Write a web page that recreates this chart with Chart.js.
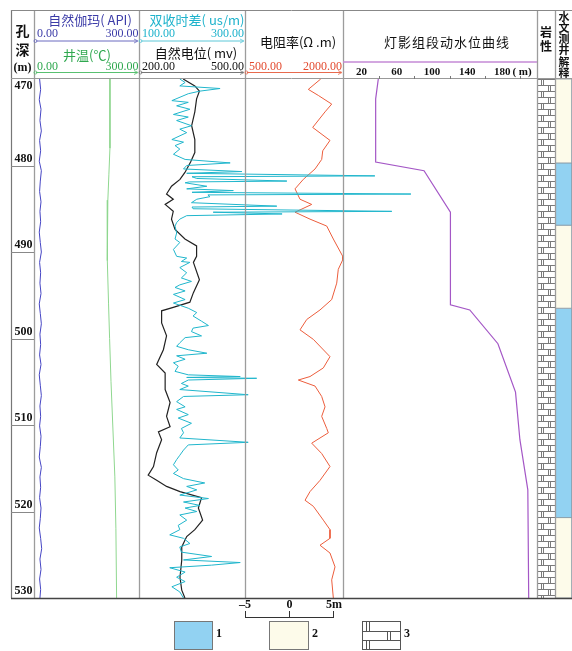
<!DOCTYPE html>
<html>
<head>
<meta charset="utf-8">
<script src="https://cdn.jsdelivr.net/npm/chart.js@4.4.1/dist/chart.umd.min.js"></script>
<style>
    html, body { margin: 0; padding: 0; background: #fff; }
    #wrap { position: relative; width: 572px; height: 651px; }
</style>
</head>
<body>
<div id="wrap"><canvas id="grafico" width="572" height="651"></canvas></div>
<script>
// profundidade (m) e leituras de cada curva: [profundidade, valor]
const profundidades = [470, 480, 490, 500, 510, 520, 530]
const ticksNivel = [20, 60, 100, 140, 180]
const ticksNivelMenor = [40, 80, 120, 160, 200]

const gama = [[470,16],[471.2,19],[472.4,15],[473.5,20],[474.8,17],[476,21],[477.1,16],[478.3,19],[479.5,15],[480.6,21],[481.8,18],[483,16],[484.2,20],[485.3,17],[486.5,19],[487.7,15],[488.9,18],[490,21],[491.2,16],[492.4,19],[493.6,17],[494.8,20],[496,15],[497.1,18],[498.3,21],[499.5,17],[500.7,19],[501.9,16],[503,20],[504.2,15],[505.4,18],[506.6,21],[507.8,17],[509,19],[510.1,16],[511.3,20],[512.5,18],[513.7,15],[514.9,21],[516,17],[517.2,19],[518.4,16],[519.6,20],[520.8,18],[521.9,15],[523.1,19],[524.3,22],[525.5,17],[526.7,20],[527.8,16],[529,19],[530,17]]

const temperatura = [[470,217],[478,217],[481,214],[484,211],[488,209],[491,210],[496,213],[500,216],[505,220],[510,225],[516,231],[522,234],[530,236]]

const difTempo = [[470,177],[470.4,187],[470.8,177],[471.1,253],[471.4,215],[471.7,193],[472.5,162],[472.7,193],[473.1,171],[473.5,196],[474.1,165],[474.4,193],[474.8,171],[475.4,199],[475.8,177],[476.2,190],[477,162],[477.3,184],[477.7,168],[478.1,177],[478.7,165],[479.3,187],[479.7,272],[480,190],[480.4,184],[480.7,294],[480.9,190],[481.2,545],[481.3,200],[481.5,209],[481.8,379],[481.9,195],[482,187],[482.4,228],[482.7,190],[482.9,278],[483.1,200],[483.3,613],[483.4,230],[483.6,234],[483.9,209],[484.3,199],[484.7,360],[484.8,200],[485,202],[485.3,577],[485.4,240],[485.6,370],[485.8,190],[486.2,177],[486.6,171],[487,168],[487.8,171],[488.5,168],[488.9,177],[489.7,165],[490.5,171],
    [490.7,190],[491.1,180],[491.2,196],[491.8,177],[492.4,190],[493,180],[493.4,199],[493.8,177],[494.1,168],[494.5,187],[494.9,165],[495.5,187],[495.9,165],[496.5,193],[497,209],[497.4,202],[498,218],[498.5,231],[498.8,202],[499.2,199],[499.7,218],[499.9,187],[500.5,177],[500.9,171],[501.3,193],[501.7,228],[502,171],[502.4,187],[502.8,165],[503.2,174],[503.8,168],[504.2,193],[504.4,291],[504.5,190],[504.6,322],[504.8,193],[505.2,180],[505.5,193],[505.9,177],[506.5,306],[506.7,184],[507.3,171],[507.9,187],[508.2,171],[508.8,193],[509.2,174],[509.8,199],[510.4,180],
    [510.9,184],[511.5,177],[512,306],[512.3,193],[512.9,184],[513.5,177],[514,171],[514.6,165],[515.2,174],[515.6,165],[516.2,184],[516.7,224],[517.1,190],[517.5,209],[518.1,177],[518.5,231],[518.9,184],[519.3,215],[519.6,187],[520,209],[520.4,177],[521,190],[521.6,174],[522.1,177],[522.7,158],[523.1,184],[523.7,196],[524.1,177],[524.7,180],[525.2,237],[525.6,184],[525.9,291],[526.2,237],[526.5,158],[527,187],[527.6,171],[528.1,187],[528.7,162],[529.3,177],[530,184]]

const potencial = [[470,325],[470.8,358],[471.4,371],[472.3,363],[473.8,358],[475.4,349],[477,358],[478.5,358],[479.6,346],[480.8,330],[481.6,316],[482.4,292],[483.3,278],[483.9,297],[484.5,274],[485.3,297],[486.2,292],[487.4,302],[488.5,330],[489.3,363],[490.5,363],[491.2,354],[493.2,371],[494.7,354],[495.8,344],[496.4,297],[496.8,264],[498.2,264],[499.7,278],[501.3,269],[503,250],[504,274],[505.9,274],[507.4,288],[509,278],[510.2,288],[510.8,255],[511.7,264],[513.2,250],[514.8,241],[515.8,226],[516.4,250],[517.1,278],[517.7,316],[518.4,377],[519.6,368],[521,380],[522.1,358],[522.9,335],[524.1,321],[525.6,321],[527.6,316],[529.1,321],[530,330]]

const resistividade = [[470,1659],[471.2,1469],[471.9,1622],[472.9,1827],[473.8,1725],[475.6,1536],[477.1,1801],[478.3,1690],[479.3,1674],[480.4,1572],[481.6,1393],[482.7,1266],[483.9,1342],[484.5,1521],[485.4,1266],[486.2,1495],[487,1751],[488.5,1852],[490.5,1996],[490.9,1996],[492,1928],[493.6,1904],[495.5,1827],[496.7,1648],[497.8,1445],[499,1342],[500.1,1546],[502.1,1801],[503.4,1699],[504.4,1495],[504.8,1316],[505.5,1572],[506.7,1674],[507.9,1725],[509,1674],[510.4,1751],[510.9,1775],[512.1,1521],[513.3,1674],[514.8,1801],[516.4,1648],[517.7,1495],[518.7,1419],[519.4,1546],[521,1699],[522.1,1801],[523.1,1801],[523.9,1648],[524.8,1801],[526.4,1878],[527.9,1827],[530,1852]]

const nivelAgua = [[470,39],[472.3,36],[479.6,36],[480.6,91],[485.4,121],[496.1,121],[496.7,143],[500.6,175],[506.2,195],[511.7,200],[517.5,209],[530,210]]

// [topo, base, tipo] tipo 1 = aquifero, 2 = nao aquifero
const interpretacao = [[470,479.7,2],[479.7,486.9,1],[486.9,496.5,2],[496.5,520.7,1],[520.7,530,2]]
const litologia = [[470,530,3]]

// ---- layout
const L = 11, R = 572, TOPO = 79, BASE = 598
const cores = { gama: '#4646c4', temp: '#8fd78f', ac: '#20b6cc', sp: '#222', res: '#ec5d3c', nivel: '#a457c6', azul: '#92d2f2', creme: '#fdfbea' }
const SERIF = '"Liberation Serif", "Noto Sans CJK SC", serif'
const CJK = '"Noto Sans CJK SC", "Liberation Serif", sans-serif'

function eixo(px0, px1, v0, v1) {
    const k = (v1 - v0) / (px1 - px0)
    return { type: 'linear', display: false, bounds: 'data', min: v0 - (px0 - L) * k, max: v1 + (R - px1) * k }
}

function padraoCalcario() {
    const c = document.createElement('canvas')
    c.width = 18
    c.height = 12
    const g = c.getContext('2d')
    g.fillStyle = '#fff'
    g.fillRect(0, 0, 18, 12)
    g.strokeStyle = '#7a7a7a'
    g.lineWidth = 1
    g.beginPath()
    g.moveTo(0, 0.5); g.lineTo(18, 0.5)
    g.moveTo(0, 6.5); g.lineTo(18, 6.5)
    g.moveTo(4.5, 0); g.lineTo(4.5, 6.5)
    g.moveTo(6.5, 0); g.lineTo(6.5, 6.5)
    g.moveTo(11.5, 6.5); g.lineTo(11.5, 12)
    g.moveTo(13.5, 6.5); g.lineTo(13.5, 12)
    g.stroke()
    const p = g.createPattern(c, 'repeat')
    p.setTransform(new DOMMatrix().translate(537, TOPO))
    return p
}
const calcario = padraoCalcario()

function serie(pares, eixoX, cor, larg) {
    return {
        data: pares.map(p => ({ x: p[1], y: p[0] })),
        xAxisID: eixoX, yAxisID: 'y',
        borderColor: cor, borderWidth: larg,
        pointRadius: 0, showLine: true, tension: 0, fill: false, order: 1
    }
}

function blocos(intervalos, eixoX) {
    return intervalos.map(b => ({
        data: [{ x: 0, y: b[0] }, { x: 1, y: b[0] }, { x: 1, y: b[1] }, { x: 0, y: b[1] }, { x: 0, y: b[0] }],
        xAxisID: eixoX, yAxisID: 'y',
        borderColor: '#8c9aa6', borderWidth: b[2] == 3 ? 0 : 0.8,
        backgroundColor: b[2] == 1 ? cores.azul : b[2] == 2 ? cores.creme : calcario,
        pointRadius: 0, showLine: true, tension: 0, fill: 'shape', order: 10
    }))
}

const moldura = {
    id: 'moldura',
    afterDatasetsDraw(chart) {
        const ctx = chart.ctx
        const y = chart.scales.y
        const xn = chart.scales.xNivel

        function linha(x1, y1, x2, y2, cor, w) {
            ctx.strokeStyle = cor
            ctx.lineWidth = w
            ctx.beginPath()
            ctx.moveTo(x1, y1)
            ctx.lineTo(x2, y2)
            ctx.stroke()
        }
        function texto(s, x, yy, cor, fonte, al) {
            ctx.fillStyle = cor
            ctx.font = fonte
            ctx.textAlign = al || 'center'
            ctx.textBaseline = 'middle'
            ctx.fillText(s, x, yy)
        }
        function escala(x1, x2, yy, cor) {
            linha(x1 + 2, yy, x2 - 2, yy, cor, 1)
            ctx.strokeStyle = cor
            ctx.lineWidth = 0.8
            ctx.beginPath(); ctx.arc(x1 + 1.5, yy, 1.5, 0, Math.PI * 2); ctx.stroke()
            ctx.beginPath(); ctx.moveTo(x2 - 5, yy - 2); ctx.lineTo(x2 - 1, yy); ctx.lineTo(x2 - 5, yy + 2); ctx.stroke()
        }

        ctx.save()
        // linhas das pistas
        ;[34, 139, 245, 343, 537, 555].forEach(x => linha(x + 0.5, 10, x + 0.5, BASE, '#9c9c9c', 1.3))
        linha(L + 0.5, 10, L + 0.5, BASE, '#777', 1.2)
        linha(L, 10.5, R, 10.5, '#888', 1)
        linha(L, TOPO - 0.5, R, TOPO - 0.5, '#999', 1)
        linha(L, BASE + 0.5, R, BASE + 0.5, '#444', 1.5)

        // profundidade
        profundidades.forEach(d => {
            const py = y.getPixelForValue(d)
            if (d > 470 && d < 530) linha(L, Math.round(py) + 0.5, 34, Math.round(py) + 0.5, '#888', 1)
            const ty = d == 470 ? py + 7 : py - 7
            texto(String(d), 32.5, ty, '#111', 'bold 12px ' + SERIF, 'right')
        })

        // cabecalho
        texto('孔', 22.5, 31, '#111', 'bold 14px ' + CJK)
        texto('深', 22.5, 50, '#111', 'bold 14px ' + CJK)
        texto('(m)', 22.5, 68, '#111', 'bold 12px ' + SERIF)

        const num = '12px ' + SERIF
        texto('自然伽玛( API)', 90, 20, '#3c3ca8', '13px ' + CJK)
        texto('0.00', 37, 34, '#3c3ca8', num, 'left')
        texto('300.00', 138.5, 34, '#3c3ca8', num, 'right')
        escala(34, 139, 41, '#6a6ac0')
        texto('井温(℃)', 87, 55, '#2fa84f', '13px ' + CJK)
        texto('0.00', 37, 67, '#2fa84f', num, 'left')
        texto('300.00', 138.5, 67, '#2fa84f', num, 'right')
        escala(34, 139, 72.5, '#58c070')

        texto('双收时差( us/m)', 197, 20, '#1fb3cc', '13px ' + CJK)
        texto('100.00', 142, 34, '#1fb3cc', num, 'left')
        texto('300.00', 244, 34, '#1fb3cc', num, 'right')
        escala(139, 245, 41, '#5cc8d8')
        texto('自然电位( mv)', 196, 53, '#111', '13px ' + CJK)
        texto('200.00', 142, 67, '#111', num, 'left')
        texto('500.00', 244, 67, '#111', num, 'right')
        escala(139, 245, 72.5, '#777')

        texto('电阻率(Ω .m)', 298, 42, '#111', '13px ' + CJK)
        texto('500.00', 249, 67, '#e34a2f', num, 'left')
        texto('2000.00', 342, 67, '#e34a2f', num, 'right')
        escala(245, 343, 72.5, '#e86a4e')

        ctx.letterSpacing = '1px'
        texto('灯影组段动水位曲线', 447, 42, '#111', '13px ' + CJK)
        ctx.letterSpacing = '0px'
        linha(343, 62, 537, 62, '#c48ad6', 1.5)
        ticksNivel.forEach(v => texto(String(v), xn.getPixelForValue(v), 72, '#111', 'bold 11px ' + SERIF))
        ticksNivelMenor.forEach(v => {
            const px = Math.round(xn.getPixelForValue(v)) + 0.5
            linha(px, TOPO - 3, px, TOPO, '#777', 1)
        })
        texto('( m)', 522, 72, '#111', 'bold 11px ' + SERIF)

        texto('岩', 546, 32, '#111', 'bold 12px ' + CJK)
        texto('性', 546, 46, '#111', 'bold 12px ' + CJK)
        ;['水', '文', '测', '井', '解', '释'].forEach((c, i) => texto(c, 564, 17 + i * 11.1, '#111', 'bold 11px ' + CJK))

        // barra de escala
        linha(245.5, 617.5, 333.5, 617.5, '#333', 1)
        ;[245.5, 289.5, 333.5].forEach(x => linha(x, 611, x, 618, '#333', 1))
        texto('–5', 245, 605, '#111', 'bold 12px ' + SERIF)
        texto('0', 289.5, 605, '#111', 'bold 12px ' + SERIF)
        texto('5m', 334, 605, '#111', 'bold 12px ' + SERIF)

        // legenda
        ctx.fillStyle = cores.azul
        ctx.fillRect(174, 621, 39, 29)
        ctx.strokeStyle = '#777'
        ctx.lineWidth = 1
        ctx.strokeRect(174.5, 621.5, 38, 28)
        texto('1', 219, 634, '#111', 'bold 12px ' + SERIF)
        ctx.fillStyle = cores.creme
        ctx.fillRect(269, 621, 40, 29)
        ctx.strokeRect(269.5, 621.5, 39, 28)
        texto('2', 315, 634, '#111', 'bold 12px ' + SERIF)
        ctx.fillStyle = '#fff'
        ctx.fillRect(362, 621, 39, 29)
        ctx.strokeStyle = '#555'
        ctx.strokeRect(362.5, 621.5, 38, 28)
        linha(362, 631.5, 401, 631.5, '#555', 1)
        linha(362, 640.5, 401, 640.5, '#555', 1)
        ;[366.5, 369.5].forEach(x => { linha(x, 621, x, 631, '#555', 1); linha(x, 641, x, 650, '#555', 1) })
        ;[387.5, 390.5].forEach(x => linha(x, 632, x, 640, '#555', 1))
        texto('3', 407, 634, '#111', 'bold 12px ' + SERIF)
        ctx.restore()
    }
}

const dados = {
    datasets: [
        serie(gama, 'xT1', cores.gama, 1),
        serie(temperatura, 'xT1', cores.temp, 1),
        serie(difTempo, 'xAC', cores.ac, 1),
        serie(potencial, 'xSP', cores.sp, 1.2),
        serie(resistividade, 'xRes', cores.res, 1),
        serie(nivelAgua, 'xNivel', cores.nivel, 1.2),
        ...blocos(litologia, 'xLito'),
        ...blocos(interpretacao, 'xHidro')
    ]
}

new Chart(document.getElementById('grafico'), {
    type: 'scatter',
    data: dados,
    options: {
        responsive: false,
        animation: false,
        devicePixelRatio: 1,
        layout: { padding: { left: L, right: 0, top: TOPO, bottom: 651 - BASE } },
        plugins: { legend: { display: false }, tooltip: { enabled: false } },
        scales: {
            y: { type: 'linear', display: false, reverse: true, min: 470, max: 530, bounds: 'data' },
            xT1: eixo(34, 139, 0, 300),
            xAC: eixo(139, 245, 100, 300),
            xSP: eixo(139, 245, 200, 500),
            xRes: eixo(245, 343, 500, 2000),
            xNivel: eixo(344, 537.5, 0, 220),
            xLito: eixo(537, 555, 0, 1),
            xHidro: eixo(555, 572, 0, 1)
        }
    },
    plugins: [moldura]
})
</script>
</body>
</html>
